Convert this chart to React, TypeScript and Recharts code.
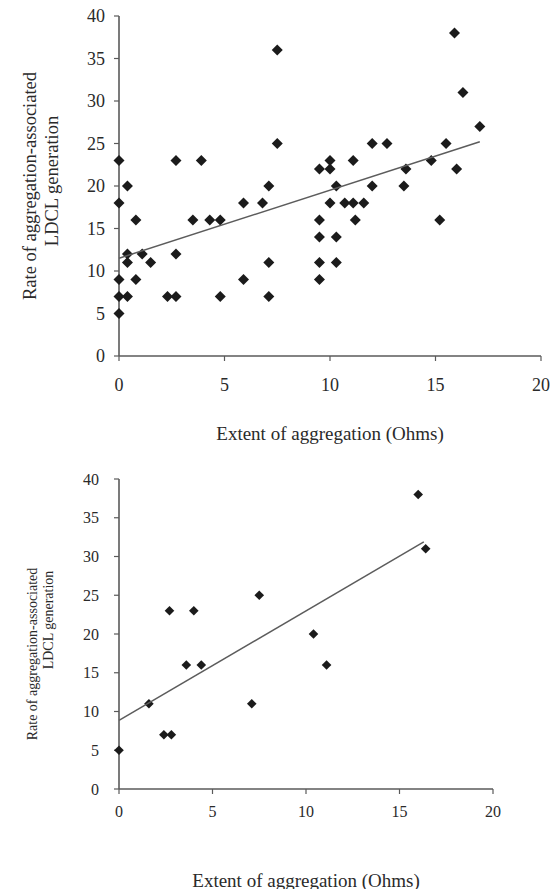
import React from "react";
import { ScatterChart, Scatter, XAxis, YAxis } from "recharts";

// top panel: all samples
const topExtent = [
  0, 0, 0, 0, 0, 0.4, 0.4, 0.4, 0.4, 0.8, 0.8, 1.1, 1.5, 2.3, 2.7, 2.7, 2.7,
  3.5, 3.9, 4.3, 4.8, 4.8, 5.9, 5.9, 6.8, 7.1, 7.1, 7.1, 7.5, 7.5, 9.5, 9.5,
  9.5, 9.5, 9.5, 10, 10, 10, 10.3, 10.3, 10.3, 10.7, 11.1, 11.1, 11.2, 11.6,
  12, 12, 12.7, 13.5, 13.6, 14.8, 15.2, 15.5, 15.9, 16, 16.3, 17.1,
];
const topRate = [
  23, 18, 9, 7, 5, 20, 12, 11, 7, 16, 9, 12, 11, 7, 7, 12, 23, 16, 23, 16, 16,
  7, 18, 9, 18, 20, 11, 7, 36, 25, 22, 16, 14, 11, 9, 23, 22, 18, 20, 14, 11,
  18, 18, 23, 16, 18, 25, 20, 25, 20, 22, 23, 16, 25, 38, 22, 31, 27,
];
const topFitExtent = [0, 17.1];
const topFitRate = [11.5, 25.2];

// bottom panel: subset
const bottomExtent = [0, 1.6, 2.4, 2.8, 2.7, 3.6, 4, 4.4, 7.1, 7.5, 10.4, 11.1, 16, 16.4];
const bottomRate = [5, 11, 7, 7, 23, 16, 23, 16, 11, 25, 20, 16, 38, 31];
const bottomFitExtent = [0, 16.3];
const bottomFitRate = [8.85, 31.9];

const xTicks = [0, 5, 10, 15, 20];
const yTicks = [0, 5, 10, 15, 20, 25, 30, 35, 40];
const xTitle = "Extent of aggregation (Ohms)";
const yTitle = ["Rate of aggregation-associated", "LDCL generation"];

const zip = (xs: number[], ys: number[]) => xs.map((x, i) => ({ x, y: ys[i] }));

const FONT = '"Liberation Serif", "DejaVu Serif", serif';
const AXIS = "#5a5a5a";
const TEXT = "#2a2a2a";

const diamond = (r: number) => (props: any) => {
  const { cx, cy } = props;
  return (
    <path
      d={`M${cx},${cy - r}L${cx + r},${cy}L${cx},${cy + r}L${cx - r},${cy}Z`}
      fill="#1b1b1b"
    />
  );
};

const noDot = () => <g />;

function YTitle({ viewBox, xs, shifts, fontSize }: any) {
  const mid = viewBox.y + viewBox.height / 2;
  return (
    <g>
      {yTitle.map((t, i) => {
        const cy = mid + shifts[i];
        return (
          <text
            key={t}
            x={xs[i]}
            y={cy}
            transform={`rotate(-90 ${xs[i]} ${cy})`}
            textAnchor="middle"
            dominantBaseline="central"
            fontFamily={FONT}
            fontSize={fontSize}
            fill={TEXT}
          >
            {t}
          </text>
        );
      })}
    </g>
  );
}

function XTitle({ viewBox, dy, fontSize }: any) {
  return (
    <text
      x={viewBox.x + viewBox.width / 2}
      y={viewBox.y + dy}
      textAnchor="middle"
      dominantBaseline="central"
      fontFamily={FONT}
      fontSize={fontSize}
      fill={TEXT}
    >
      {xTitle}
    </text>
  );
}

interface PanelProps {
  height: number;
  margin: { top: number; right: number; left: number; bottom: number };
  axisHeight: number;
  points: { x: number; y: number }[];
  fit: { x: number; y: number }[];
  r: number;
  tickFont: number;
  xTickMargin: number;
  yTickMargin: number;
  titleDy: number;
  yTitleXs: number[];
  yTitleShifts: number[];
  yTitleFont: number;
}

function Panel(p: PanelProps) {
  return (
    <ScatterChart width={553} height={p.height} margin={p.margin}>
      <XAxis
        type="number"
        dataKey="x"
        domain={[0, 20]}
        ticks={xTicks}
        height={p.axisHeight}
        axisLine={{ stroke: AXIS, strokeWidth: 1.6 }}
        tickLine={{ stroke: AXIS, strokeWidth: 1.2 }}
        tickSize={5}
        tickMargin={p.xTickMargin}
        tick={{ fontFamily: FONT, fontSize: p.tickFont, fill: TEXT }}
        label={<XTitle dy={p.titleDy} fontSize={19} />}
      />
      <YAxis
        type="number"
        dataKey="y"
        domain={[0, 40]}
        ticks={yTicks}
        width={119}
        axisLine={{ stroke: AXIS, strokeWidth: 1.6 }}
        tickLine={{ stroke: AXIS, strokeWidth: 1.2 }}
        tickSize={5}
        tickMargin={p.yTickMargin}
        tick={{ fontFamily: FONT, fontSize: p.tickFont, fill: TEXT }}
        label={<YTitle xs={p.yTitleXs} shifts={p.yTitleShifts} fontSize={p.yTitleFont} />}
      />
      <Scatter data={p.points} shape={diamond(p.r)} isAnimationActive={false} />
      <Scatter
        data={p.fit}
        shape={noDot}
        line={{ stroke: "#5c5c5c", strokeWidth: 1.5 }}
        isAnimationActive={false}
      />
    </ScatterChart>
  );
}

export default function App() {
  return (
    <div style={{ position: "absolute", left: 0, top: 0, width: 553, height: 889, background: "#fff" }}>
      <Panel
        height={445}
        margin={{ top: 16, right: 12, left: 0, bottom: 0 }}
        axisHeight={89}
        points={zip(topExtent, topRate)}
        fit={zip(topFitExtent, topFitRate)}
        r={5.5}
        tickFont={18}
        xTickMargin={17}
        yTickMargin={9}
        titleDy={77}
        yTitleXs={[30, 52]}
        yTitleShifts={[0, -5]}
        yTitleFont={18.5}
      />
      <Panel
        height={444}
        margin={{ top: 34, right: 60, left: 0, bottom: 0 }}
        axisHeight={100}
        points={zip(bottomExtent, bottomRate)}
        fit={zip(bottomFitExtent, bottomFitRate)}
        r={4.8}
        tickFont={16}
        xTickMargin={12}
        yTickMargin={15}
        titleDy={91}
        yTitleXs={[32, 48]}
        yTitleShifts={[20, -14]}
        yTitleFont={14}
      />
    </div>
  );
}
